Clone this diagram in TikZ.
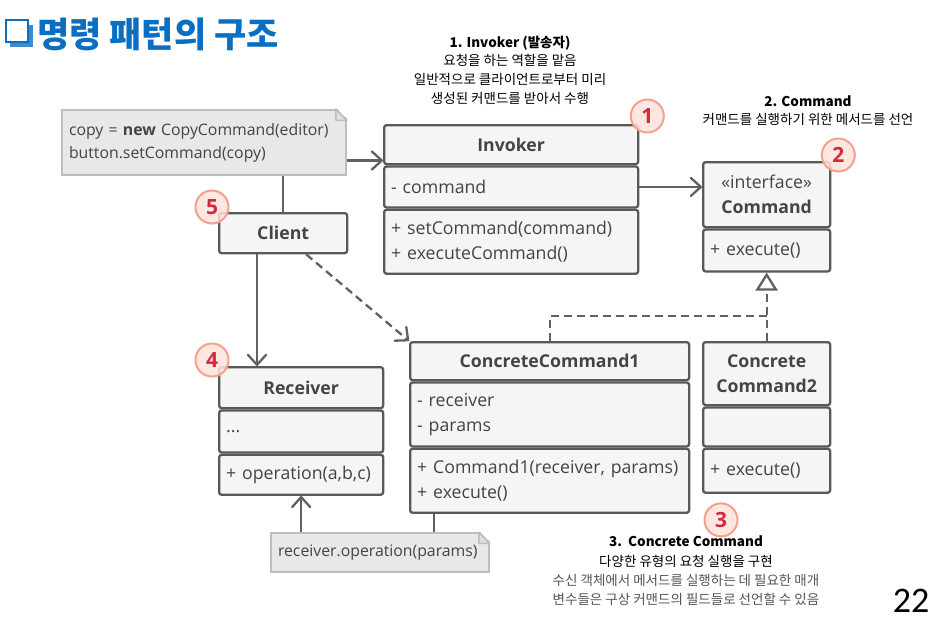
\documentclass[tikz,border=0pt]{standalone}
\usepackage{fontspec}
\setmainfont{Open Sans}
\newfontfamily\kr{Noto Sans CJK KR}
\newfontfamily\pagefont{Carlito}
\usetikzlibrary{calc}
\usetikzlibrary{positioning}
\usetikzlibrary{arrows.meta}
\definecolor{umlline}{HTML}{595959}
\definecolor{umltext}{HTML}{444444}
\definecolor{umlfill}{HTML}{F5F5F5}
\definecolor{notefill}{HTML}{E8E8E8}
\definecolor{noteline}{HTML}{BDBDBD}
\definecolor{badgefill}{HTML}{FDE3DB}
\definecolor{badgeline}{HTML}{F4A18C}
\definecolor{badgetext}{HTML}{D12A3B}
\definecolor{titleblue}{HTML}{0A6FC2}
\definecolor{infogray}{HTML}{555555}
\tikzset{
  umlpart/.style={draw=umlline, fill=umlfill, line width=2.3pt, rounded corners=2.5pt,
    inner xsep=7pt, inner ysep=0pt, text=umltext, font=\fontsize{17.7}{25}\selectfont},
  umlhead/.style={umlpart, align=center, font=\fontsize{17.7}{25}\selectfont\bfseries},
  umlbody/.style={umlpart, align=left},
  note/.style={draw=noteline, fill=notefill, line width=1.5pt, inner xsep=7pt, inner ysep=0pt,
    align=left, text=umltext, font=\fontsize{15.8}{23}\selectfont},
  link/.style={draw=umlline!95, line width=2.3pt},
  assoc/.style={link, -{Straight Barb[length=10pt, width=18pt, round]}},
  badge/.style={circle, draw=badgeline, fill=badgefill, fill opacity=0.85, text opacity=1,
    line width=2pt, minimum size=33pt, inner sep=0pt, text=badgetext, font=\fontsize{21}{21}\selectfont\bfseries},
  info/.style={align=center, inner sep=0pt, font=\kr\fontsize{13.5}{18.7}\selectfont}
}

\begin{document}
\begin{tikzpicture}[x=1pt, y=-1pt]
\useasboundingbox (0,0) rectangle (931,621);
\fill[white] (0,0) rectangle (931,621);

% title
\fill[titleblue!80] (10,25) rectangle (33,47);
\draw[titleblue, fill=white, line width=1.6pt] (6,20) rectangle (28,42);
\node[anchor=west, inner sep=0pt, text=titleblue, font=\kr\fontsize{35}{35}\selectfont\bfseries] (title) at (37,34) {명령 패턴의 구조};

% classes
\node[umlhead, text width=240pt, minimum height=39pt, anchor=north west] (invhead) at (383,124) {Invoker};
\node[umlbody, text width=240pt, minimum height=41pt, below=0pt of invhead] (invfields) {- command};
\node[umlbody, text width=240pt, minimum height=64pt, below=0pt of invfields] (invmeth) {+ setCommand(command)\\+ executeCommand()};

\node[umlpart, align=center, text width=113pt, minimum height=65pt, anchor=north west] (cmdhead) at (702,161) {«interface»\\\textbf{Command}};
\node[umlbody, text width=113pt, minimum height=42pt, below=0pt of cmdhead] (cmdmeth) {+ execute()};

\node[umlhead, text width=114pt, minimum height=40pt, anchor=north west] (client) at (218,212) {Client};

\node[umlhead, text width=150pt, minimum height=41pt, anchor=north west] (recvhead) at (218,366) {Receiver};
\node[umlbody, text width=150pt, minimum height=42pt, below=0pt of recvhead] (recvfields) {...};
\node[umlbody, text width=150pt, minimum height=40pt, below=0pt of recvfields] (recvmeth) {+ operation(a,b,c)};

\node[umlhead, text width=265pt, minimum height=38pt, anchor=north west] (cc1head) at (409,341) {ConcreteCommand1};
\node[umlbody, text width=265pt, minimum height=64pt, below=0pt of cc1head] (cc1fields) {- receiver\\- params};
\node[umlbody, text width=265pt, minimum height=64pt, below=0pt of cc1fields] (cc1meth) {+ Command1(receiver, params)\\+ execute()};

\node[umlhead, text width=113pt, minimum height=63pt, anchor=north west] (cc2head) at (702,341) {Concrete\\Command2};
\node[umlbody, text width=113pt, minimum height=39pt, below=0pt of cc2head] (cc2fields) {};
\node[umlbody, text width=113pt, minimum height=44pt, below=0pt of cc2fields] (cc2meth) {+ execute()};

% notes
\node[note, text width=270pt, minimum height=65pt] (copynote) at (204,142.5) {copy = \textbf{new} CopyCommand(editor)\\button.setCommand(copy)};
\fill[white] ($(copynote.north east)+(-11,-2)$) -- ($(copynote.north east)+(2,-2)$) -- ($(copynote.north east)+(2,11)$) -- cycle;
\draw[noteline, fill=notefill!80!noteline, line width=1.5pt, line join=round] ($(copynote.north east)+(-11,0)$) -- ($(copynote.north east)+(0,11)$) -- ($(copynote.north east)+(-11,11)$) -- cycle;

\node[note, text width=204pt, minimum height=39pt] (paramsnote) at (380,552.5) {receiver.operation(params)};
\fill[white] ($(paramsnote.north east)+(-11,-2)$) -- ($(paramsnote.north east)+(2,-2)$) -- ($(paramsnote.north east)+(2,11)$) -- cycle;
\draw[noteline, fill=notefill!80!noteline, line width=1.5pt, line join=round] ($(paramsnote.north east)+(-11,0)$) -- ($(paramsnote.north east)+(0,11)$) -- ($(paramsnote.north east)+(-11,11)$) -- cycle;

% connectors
\draw[assoc] ([yshift=-18pt]copynote.east) -- ([yshift=-18pt]copynote.east -| invhead.west);
\draw[link] (client.north) -- (client.north |- copynote.south);
\draw[assoc] (invfields.east) -- (invfields.east -| cmdhead.west);
\draw[assoc] ([xshift=39pt]client.south west) -- ([xshift=39pt]client.south west |- recvhead.north);
\draw[assoc, dash pattern=on 8pt off 5pt] ([xshift=23pt]client.south) -- (cc1head.north west);
\coordinate (realize) at ($(cc2head.north)+(0,-25)$);
\draw[link, dash pattern=on 8pt off 5pt] (cc1head.north) |- (realize);
\draw[link, dash pattern=on 8pt off 5pt, -{Triangle[open, length=18pt, width=22pt, fill=white]}] (cc2head.north) -- (cmdmeth.south);
\draw[link] ([xshift=25pt]cc1meth.south west) -- ([xshift=25pt]cc1meth.south west |- paramsnote.north);
\draw[assoc] (recvmeth.south |- paramsnote.north) -- (recvmeth.south);

% badges
\node[badge] (badge1) at ($(invhead.north east)+(8,-8)$) {1};
\node[badge] (badge2) at ($(cmdhead.north east)+(7,-6)$) {2};
\node[badge] (badge3) at ($(cc2meth.south west)+(19,26)$) {3};
\node[badge] (badge4) at ($(recvhead.north west)+(-6,-6)$) {4};
\node[badge] (badge5) at ($(client.north west)+(-6,-5)$) {5};

% descriptions
\node[info] (invinfo) at (510,70) {\textbf{1. Invoker (발송자)}\\요청을 하는 역할을 맡음\\일반적으로 클라이언트로부터 미리\\생성된 커맨드를 받아서 수행};
\node[info] (cmdinfo) at (808,110.5) {\textbf{2. Command}\\커맨드를 실행하기 위한 메서드를 선언};
\node[info, font=\kr\fontsize{13.5}{19.3}\selectfont] (ccinfo) at (686,571) {\textbf{3.\ \ Concrete Command}\\다양한 유형의 요청 실행을 구현\\\textcolor{infogray}{수신 객체에서 메서드를 실행하는 데 필요한 매개}\\\textcolor{infogray}{변수들은 구상 커맨드의 필드들로 선언할 수 있음}};

\node[font=\pagefont\fontsize{36}{36}\selectfont, inner sep=0pt] (pagenum) at (911,601) {22};
\end{tikzpicture}
\end{document}
